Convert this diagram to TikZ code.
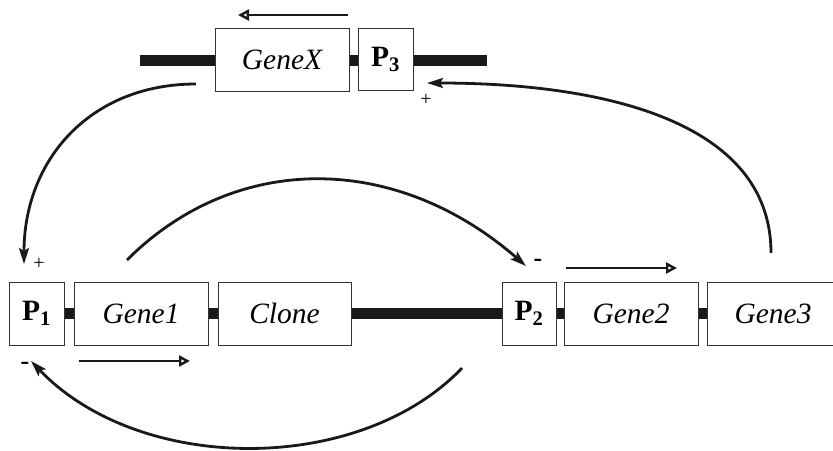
\documentclass[tikz,border=0pt]{standalone}
\usepackage{fontspec}
\setmainfont{Liberation Serif}
\usetikzlibrary{arrows.meta}
\begin{document}
\begin{tikzpicture}[x=1pt,y=-1pt,
  gbox/.style={draw=black!80, line width=1pt, fill=white, rectangle,
    inner sep=0pt, minimum height=63pt,
    font=\fontsize{29.5}{31}\selectfont\itshape},
  pbox/.style={gbox, minimum width=55pt, font=\fontsize{29.5}{31}\selectfont\bfseries},
  dnabar/.style={line width=11pt, black!90},
  reg/.style={line width=2.8pt, black!90, -{Stealth[length=16pt,width=10pt,inset=3pt]}},
  dir/.style={line width=2.6pt, black!90, -{Triangle[open,length=11pt,width=11pt,line width=2.4pt]}},
  plus/.style={font=\fontsize{20}{20}\selectfont, inner sep=0pt},
  minus/.style={font=\fontsize{26}{26}\selectfont\bfseries, inner sep=0pt}]
\useasboundingbox (0,0) rectangle (833,450);

% upper construct
\coordinate (topL) at (140,60);
\coordinate (topR) at (487,60);
\draw[dnabar] (topL) -- (topR);
\node[gbox, minimum width=134pt] (gx) at (282,60) {GeneX};
\node[pbox, minimum height=62pt] (p3) at (385.5,59) {P\textsubscript{3}};

% lower construct
\node[pbox] (p1) at (36.5,313.5) {P\textsubscript{1}};
\node[gbox, minimum width=134pt] (g1) at (141,313.5) {Gene1};
\node[gbox, minimum width=133pt] (cl) at (284.5,313.5) {Clone};
\node[pbox, minimum width=54pt] (p2) at (529,313.5) {P\textsubscript{2}};
\node[gbox, minimum width=134pt] (g2) at (631,313.5) {Gene2};
\node[gbox, minimum width=132pt] (g3) at (773,313.5) {Gene3};
\draw[dnabar] (p1.east) -- (g1.west);
\draw[dnabar] (g1.east) -- (cl.west);
\draw[dnabar] (cl.east) -- (p2.west);
\draw[dnabar] (p2.east) -- (g2.west);
\draw[dnabar] (g2.east) -- (g3.west);

% transcription directions
\coordinate (dxs) at (348,15);  \coordinate (dxe) at (238,15);
\coordinate (d1s) at (79,361);  \coordinate (d1e) at (190,361);
\coordinate (d2s) at (566,268); \coordinate (d2e) at (677,268);
\draw[dir] (dxs) -- (dxe);
\draw[dir] (d1s) -- (d1e);
\draw[dir] (d2s) -- (d2e);

% regulatory links
\coordinate (rxs) at (196,84);  \coordinate (rxe) at (24,264);
\coordinate (r1s) at (127,260); \coordinate (r1e) at (526,266);
\coordinate (r3s) at (771,253); \coordinate (r3e) at (427,83);
\coordinate (r2s) at (462,368); \coordinate (r2e) at (31,361);
\draw[reg] (rxs) .. controls (90,84) and (24,160) .. (rxe);
\draw[reg] (r1s) .. controls (235,152) and (395,152) .. (r1e);
\draw[reg] (r3s) .. controls (771,120) and (600,83) .. (r3e);
\draw[reg] (r2s) .. controls (360,475) and (140,475) .. (r2e);

% effect signs
\node[plus] (s1) at (39,264) {+};
\node[plus] (s3) at (426,100) {+};
\node[minus] (m1) at (25,366) {-};
\node[minus] (m2) at (538,263) {-};
\end{tikzpicture}
\end{document}
